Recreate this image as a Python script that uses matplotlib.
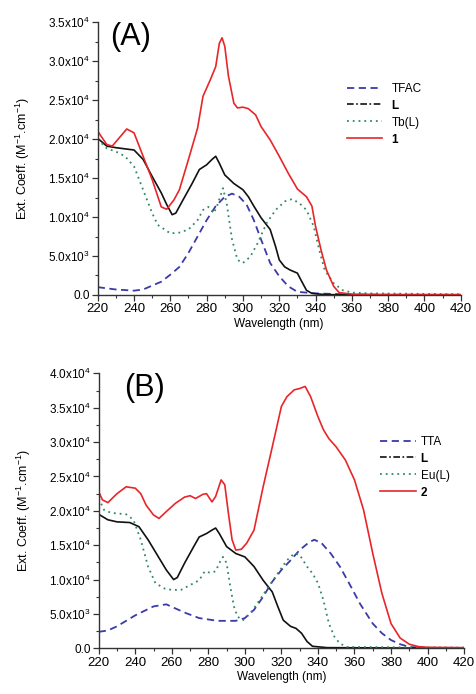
import matplotlib
matplotlib.use("Agg")
import matplotlib.pyplot as plt
from matplotlib.ticker import MultipleLocator, FixedLocator

plt.rcParams['font.family'] = ['Liberation Sans', 'DejaVu Sans']
plt.rcParams['mathtext.fontset'] = 'custom'
plt.rcParams['mathtext.rm'] = 'Liberation Sans'
plt.rcParams['mathtext.it'] = 'Liberation Sans:italic'
plt.rcParams['mathtext.bf'] = 'Liberation Sans:bold'

# ---------------- Panel A data (values in 1e4 M^-1 cm^-1) ----------------
a1_x = [220, 225, 228, 232, 236, 240, 245, 250, 255, 258, 262, 265, 270, 275, 278, 282, 285, 287, 288.5, 290, 292, 295, 297, 300, 303, 307, 310, 315, 320, 325, 330, 335, 338, 340, 343, 346, 350, 353, 360, 380, 400, 420]
a1_y = [2.10, 1.93, 1.91, 2.02, 2.13, 2.08, 1.78, 1.48, 1.13, 1.10, 1.22, 1.35, 1.74, 2.14, 2.55, 2.76, 2.93, 3.23, 3.30, 3.19, 2.81, 2.46, 2.40, 2.41, 2.39, 2.31, 2.16, 1.99, 1.78, 1.56, 1.36, 1.26, 1.14, 0.88, 0.58, 0.32, 0.11, 0.03, 0.01, 0.005, 0.005, 0.005]

aL_x = [220, 225, 230, 240, 245, 250, 255, 258, 261, 263, 267, 272, 276, 280, 283, 285, 287, 290, 295, 300, 303, 306, 310, 315, 318, 320, 323, 326, 330, 332, 335, 338, 345, 360, 420]
aL_y = [2.01, 1.91, 1.89, 1.86, 1.74, 1.52, 1.31, 1.16, 1.03, 1.05, 1.22, 1.43, 1.61, 1.67, 1.74, 1.78, 1.69, 1.54, 1.43, 1.35, 1.26, 1.14, 0.99, 0.84, 0.62, 0.45, 0.36, 0.32, 0.28, 0.19, 0.06, 0.02, 0.005, 0.0, 0.0]

aTb_x = [220, 225, 230, 235, 240, 245, 250, 253, 260, 265, 270, 275, 278, 281, 284, 286, 289, 291, 294, 297, 300, 304, 308, 313, 318, 323, 327, 331, 335, 339, 342, 345, 350, 355, 360, 370, 420]
aTb_y = [2.00, 1.88, 1.84, 1.78, 1.65, 1.35, 1.05, 0.90, 0.79, 0.80, 0.84, 0.96, 1.09, 1.13, 1.05, 1.16, 1.37, 1.18, 0.71, 0.45, 0.41, 0.49, 0.66, 0.92, 1.09, 1.20, 1.23, 1.18, 1.09, 0.88, 0.58, 0.32, 0.15, 0.06, 0.03, 0.02, 0.01]

aT_x = [220, 230, 240, 245, 250, 255, 260, 265, 270, 275, 280, 285, 290, 294, 298, 302, 306, 310, 315, 320, 325, 330, 340, 360, 420]
aT_y = [0.10, 0.07, 0.055, 0.07, 0.12, 0.17, 0.26, 0.36, 0.54, 0.75, 0.96, 1.14, 1.26, 1.30, 1.26, 1.16, 0.96, 0.71, 0.41, 0.24, 0.11, 0.04, 0.02, 0.005, 0.0]

# ---------------- Panel B data (values in 1e4 M^-1 cm^-1) ----------------
b2_x = [220, 222, 225, 230, 235, 240, 243, 246, 250, 253, 257, 262, 267, 270, 273, 277, 279, 282, 284, 287, 289, 291, 293, 295, 298, 301, 305, 310, 315, 320, 323, 327, 330, 333, 336, 340, 343, 346, 350, 355, 360, 365, 370, 375, 380, 385, 390, 395, 400, 420]
b2_y = [2.28, 2.16, 2.12, 2.25, 2.35, 2.33, 2.25, 2.08, 1.94, 1.89, 1.99, 2.11, 2.20, 2.22, 2.18, 2.24, 2.25, 2.13, 2.21, 2.45, 2.38, 1.96, 1.58, 1.43, 1.44, 1.53, 1.72, 2.35, 2.93, 3.52, 3.66, 3.76, 3.78, 3.81, 3.66, 3.37, 3.18, 3.05, 2.93, 2.74, 2.45, 2.01, 1.38, 0.80, 0.36, 0.15, 0.06, 0.025, 0.015, 0.01]

bL_x = [220, 225, 230, 237, 242, 247, 252, 257, 261, 263, 267, 272, 275, 279, 282, 284, 286, 290, 295, 300, 305, 310, 315, 318, 321, 325, 328, 331, 334, 337, 345, 420]
bL_y = [1.95, 1.87, 1.84, 1.83, 1.77, 1.58, 1.36, 1.14, 1.00, 1.03, 1.24, 1.48, 1.62, 1.67, 1.72, 1.75, 1.67, 1.48, 1.38, 1.33, 1.19, 0.99, 0.82, 0.61, 0.41, 0.32, 0.29, 0.22, 0.10, 0.03, 0.01, 0.0]

bEu_x = [220, 223, 227, 235, 239, 243, 247, 251, 256, 260, 265, 270, 275, 278, 281, 284, 286, 288, 290, 292, 294, 296, 299, 303, 308, 313, 318, 323, 327, 330, 334, 337, 340, 343, 346, 349, 352, 356, 420]
bEu_y = [2.18, 2.01, 1.97, 1.95, 1.87, 1.58, 1.19, 0.95, 0.87, 0.85, 0.85, 0.92, 0.99, 1.12, 1.10, 1.12, 1.24, 1.33, 1.24, 0.90, 0.61, 0.46, 0.41, 0.51, 0.70, 0.90, 1.09, 1.28, 1.38, 1.36, 1.19, 1.09, 0.95, 0.70, 0.36, 0.17, 0.07, 0.02, 0.01]

bT_x = [220, 225, 230, 240, 250, 257, 262, 268, 275, 285, 295, 300, 305, 310, 315, 320, 325, 330, 335, 338, 342, 347, 352, 358, 363, 370, 375, 380, 385, 390, 400, 420]
bT_y = [0.24, 0.26, 0.32, 0.48, 0.61, 0.64, 0.58, 0.51, 0.44, 0.40, 0.40, 0.44, 0.56, 0.75, 0.97, 1.14, 1.28, 1.43, 1.54, 1.58, 1.53, 1.38, 1.19, 0.90, 0.65, 0.36, 0.22, 0.12, 0.06, 0.02, 0.005, 0.0]

x_ticks = [220, 240, 260, 280, 300, 320, 340, 360, 380, 400, 420]
a_yticks = [0, 0.5, 1.0, 1.5, 2.0, 2.5, 3.0, 3.5]
a_ylabels = ['0.0', r'5.0x10$^{3}$', r'1.0x10$^{4}$', r'1.5x10$^{4}$', r'2.0x10$^{4}$', r'2.5x10$^{4}$', r'3.0x10$^{4}$', r'3.5x10$^{4}$']
b_yticks = [0, 0.5, 1.0, 1.5, 2.0, 2.5, 3.0, 3.5, 4.0]
b_ylabels = a_ylabels + [r'4.0x10$^{4}$']

a_labels = ['TFAC', 'L', 'Tb(L)', '1']
b_labels = ['TTA', 'L', 'Eu(L)', '2']

BLUE = '#3a3aa8'
GREEN = '#2f8a5e'
RED = '#e8262a'
BLACK = '#111111'

fig = plt.figure(figsize=(4.76, 6.94), dpi=100)
axA = fig.add_axes([0.2053, 0.575, 0.7627, 0.393])
axB = fig.add_axes([0.2074, 0.0658, 0.7676, 0.3962])


def style(ax, yticks, ylabels, ymax):
    ax.set_xlim(220, 420)
    ax.set_ylim(0, ymax)
    for s in ['top', 'right']:
        ax.spines[s].set_visible(False)
    for s in ['left', 'bottom']:
        ax.spines[s].set_linewidth(1.0)
        ax.spines[s].set_color('#333333')
    ax.xaxis.set_major_locator(FixedLocator(x_ticks))
    ax.xaxis.set_minor_locator(MultipleLocator(10))
    ax.set_yticks(yticks)
    ax.set_yticklabels(ylabels)
    ax.yaxis.set_minor_locator(MultipleLocator(0.25))
    ax.tick_params(axis='x', which='major', direction='out', length=4, width=0.9, labelsize=9.5, pad=2, color='#333333')
    ax.tick_params(axis='x', which='minor', direction='out', length=2.5, width=0.8, color='#333333')
    ax.tick_params(axis='y', which='major', direction='out', length=4, width=0.9, labelsize=8.5, pad=1.5, color='#333333')
    ax.tick_params(axis='y', which='minor', direction='out', length=2, width=0.8, color='#333333')
    ax.set_xlabel('Wavelength (nm)', fontsize=8.5, labelpad=2)
    ax.set_ylabel(r'Ext. Coeff. (M$^{-1}$.cm$^{-1}$)', fontsize=9, labelpad=12)


def draw(ax, tx, ty, lx, ly, cx, cy, rx, ry, labels):
    h1, = ax.plot(tx, ty, color=BLUE, lw=1.3, ls=(0, (4, 2.5)), label=labels[0])
    h2, = ax.plot(lx, ly, color=BLACK, lw=1.2, ls='-', label=labels[1])
    h3, = ax.plot(cx, cy, color=GREEN, lw=1.3, ls=(0, (1, 2.2)), label=labels[2])
    h4, = ax.plot(rx, ry, color=RED, lw=1.2, ls='-', label=labels[3])
    # legend key for L is drawn dash-dot as in the original key
    proxyL, = ax.plot([], [], color=BLACK, lw=1.2, ls=(0, (4, 1.5, 1, 1.5)))
    return [h1, proxyL, h3, h4]


style(axA, a_yticks, a_ylabels, 3.5)
hA = draw(axA, aT_x, aT_y, aL_x, aL_y, aTb_x, aTb_y, a1_x, a1_y, a_labels)
legA = axA.legend(hA, a_labels, loc='upper left', bbox_to_anchor=(0.67, 0.80), frameon=False,
                  fontsize=8.5, handlelength=3.0, handletextpad=0.8, labelspacing=0.42, borderpad=0)
for t in legA.get_texts():
    if t.get_text() in ('L', '1'):
        t.set_fontweight('bold')
axA.text(0.035, 1.0, '(A)', transform=axA.transAxes, fontsize=22, va='top', ha='left')

style(axB, b_yticks, b_ylabels, 4.0)
hB = draw(axB, bT_x, bT_y, bL_x, bL_y, bEu_x, bEu_y, b2_x, b2_y, b_labels)
legB = axB.legend(hB, b_labels, loc='upper left', bbox_to_anchor=(0.755, 0.795), frameon=False,
                  fontsize=8.5, handlelength=3.0, handletextpad=0.4, labelspacing=0.42, borderpad=0)
for t in legB.get_texts():
    if t.get_text() in ('L', '2'):
        t.set_fontweight('bold')
axB.text(0.07, 1.0, '(B)', transform=axB.transAxes, fontsize=22, va='top', ha='left')

fig.savefig('out.png', dpi=100)
